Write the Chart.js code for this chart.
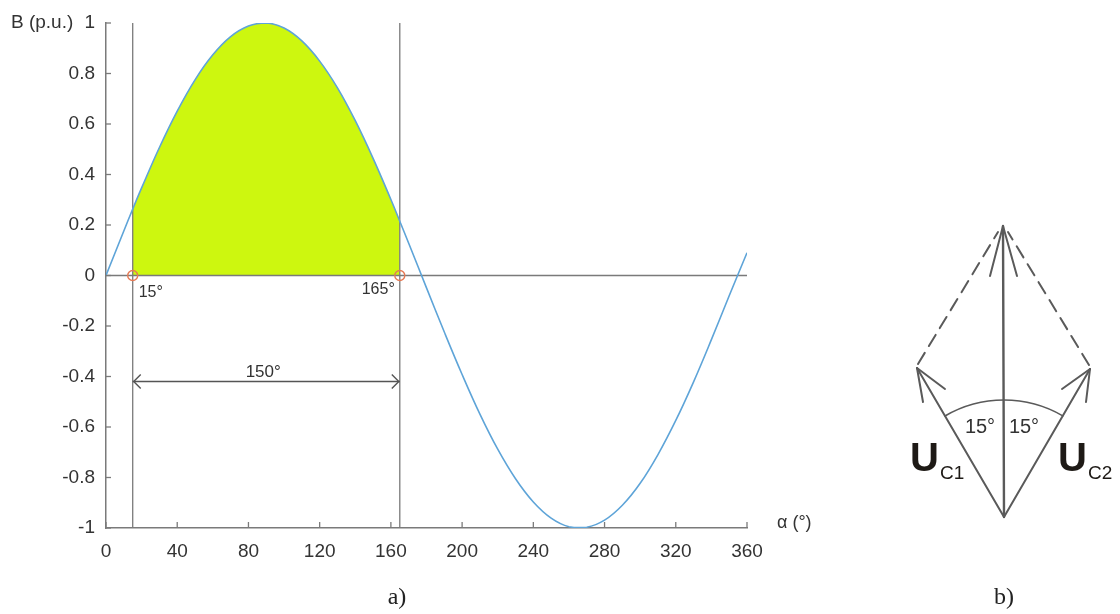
<!DOCTYPE html>
<html><head><meta charset="utf-8">
<script src="https://cdn.jsdelivr.net/npm/chart.js@4.4.1/dist/chart.umd.min.js"></script>
<style>html,body{margin:0;padding:0;background:#fff;}#wrap{width:1120px;height:614px;position:relative;}</style>
</head><body><div id="wrap"><canvas id="c" width="1120" height="614"></canvas></div>
<script>
// ---- data ----
const alphaDeg = [0,10,15,20,30,40,50,60,70,80,90,100,110,120,130,140,150,160,165,170,180,190,200,210,220,230,240,250,260,270,280,290,300,310,320,330,340,350,360];
const fluxB    = [0,0.176,0.263,0.347,0.507,0.651,0.775,0.874,0.946,0.988,1.000,0.980,0.929,0.849,0.743,0.613,0.464,0.301,0.215,0.128,-0.049,-0.224,-0.392,-0.549,-0.688,-0.805,-0.897,-0.961,-0.995,-0.997,-0.969,-0.910,-0.823,-0.709,-0.574,-0.421,-0.254,-0.080,0.090];
const shadedFrom = 15;
const shadedTo = 165;
const markerAngles = [15, 165];
const markerLabels = ['15°', '165°'];
const spanLevel = -0.42;
const spanLabel = '150°';
const xTickValues = [0,40,80,120,160,200,240,280,320,360];
const yTickValues = [1,0.8,0.6,0.4,0.2,0,-0.2,-0.4,-0.6,-0.8,-1];
const yTickLabels = ['1','0.8','0.6','0.4','0.2','0','-0.2','-0.4','-0.6','-0.8','-1'];
const yAxisTitle = 'B (p.u.)';
const xAxisTitle = 'α (°)';
const panelLabels = ['a)', 'b)'];
const phasorAngleLabels = ['15°', '15°'];
const phasorNames = [['U','C1'], ['U','C2']];

// ---- build datasets ----
const curvePts = alphaDeg.map((a,i)=>({x:a, y:fluxB[i]}));
const shadedPts = curvePts.filter(p=>p.x>=shadedFrom && p.x<=shadedTo);
const GRAY = '#7a7a7a';
const TXT = '#333333';
const FONT = "'Liberation Sans', Arial, sans-serif";

const datasets = [
  {label:'shade', data:shadedPts, fill:'origin', backgroundColor:'#cdf70f', borderWidth:0, pointRadius:0, tension:0.4, order:6},
  {label:'v1', data:[{x:markerAngles[0],y:-1},{x:markerAngles[0],y:1}], borderColor:GRAY, borderWidth:1.3, pointRadius:0, fill:false, order:5},
  {label:'v2', data:[{x:markerAngles[1],y:-1},{x:markerAngles[1],y:1}], borderColor:GRAY, borderWidth:1.3, pointRadius:0, fill:false, order:5},
  {label:'zero', data:[{x:0,y:0},{x:360,y:0}], borderColor:GRAY, borderWidth:1.3, pointRadius:0, fill:false, order:4},
  {label:'span', data:[{x:markerAngles[0],y:spanLevel},{x:markerAngles[1],y:spanLevel}], borderColor:'#555', borderWidth:1.6, pointRadius:0, fill:false, order:3},
  {label:'B', data:curvePts, borderColor:'#5ea4d8', borderWidth:1.6, pointRadius:0, fill:false, tension:0.4, order:2},
  {label:'marks', data:markerAngles.map(a=>({x:a,y:0})), showLine:false, pointRadius:5, pointStyle:'circle', pointBorderColor:'#e57a55', pointBackgroundColor:'rgba(0,0,0,0)', pointBorderWidth:1.4, order:1}
];

const annot = {
  id:'annot',
  afterDraw(chart){
    const ctx = chart.ctx, xs = chart.scales.x, ys = chart.scales.y;
    const ca = chart.chartArea;
    ctx.save();
    // inward tick marks
    ctx.strokeStyle = GRAY; ctx.lineWidth = 1.3;
    yTickValues.forEach(v=>{const p=ys.getPixelForValue(v); ctx.beginPath(); ctx.moveTo(ca.left,p); ctx.lineTo(ca.left+5,p); ctx.stroke();});
    xTickValues.forEach(v=>{const p=xs.getPixelForValue(v); ctx.beginPath(); ctx.moveTo(p,ca.bottom); ctx.lineTo(p,ca.bottom-6); ctx.stroke();});
    // marker labels
    ctx.fillStyle = TXT; ctx.font = '16px '+FONT; ctx.textBaseline='middle';
    const y0 = ys.getPixelForValue(0);
    ctx.textAlign='left'; ctx.fillText(markerLabels[0], xs.getPixelForValue(markerAngles[0])+6, y0+17);
    ctx.textAlign='right'; ctx.fillText(markerLabels[1], xs.getPixelForValue(markerAngles[1])-5, y0+14);
    // span arrow heads
    const ya = ys.getPixelForValue(spanLevel);
    const xa = xs.getPixelForValue(markerAngles[0]), xb = xs.getPixelForValue(markerAngles[1]);
    ctx.strokeStyle='#555'; ctx.lineWidth=1.4;
    ctx.beginPath(); ctx.moveTo(xa+8,ya-7); ctx.lineTo(xa+1,ya); ctx.lineTo(xa+8,ya+7); ctx.stroke();
    ctx.beginPath(); ctx.moveTo(xb-8,ya-7); ctx.lineTo(xb-1,ya); ctx.lineTo(xb-8,ya+7); ctx.stroke();
    ctx.textAlign='center'; ctx.font='17px '+FONT; ctx.fillStyle=TXT;
    ctx.fillText(spanLabel, (xa+xb)/2 - 3, ya-9);
    // axis titles
    ctx.font='19px '+FONT; ctx.textAlign='left';
    ctx.fillText(yAxisTitle, 11, 23);
    ctx.font='18px '+FONT;
    ctx.fillText(xAxisTitle, ca.right+30, ca.bottom-5);
    // panel labels
    ctx.font="24px 'Liberation Serif', 'Times New Roman', serif"; ctx.fillStyle='#222'; ctx.textAlign='center';
    ctx.fillText(panelLabels[0], 397, 598);
    ctx.fillText(panelLabels[1], 1004, 598);
    // ---- diagram b) ----
    const cx=1004, cy=517, apex=[1003,226], L=[917,368], R=[1090,369];
    ctx.strokeStyle='#5a5a5a'; ctx.lineWidth=2; ctx.lineCap='round';
    const line=(a,b)=>{ctx.beginPath();ctx.moveTo(a[0],a[1]);ctx.lineTo(b[0],b[1]);ctx.stroke();};
    ctx.lineWidth=2.4; line([cx,cy],apex);
    ctx.lineWidth=2;
    line([cx,cy],L);
    line([cx,cy],R);
    // arrow barbs
    line(apex,[990,276]); line(apex,[1017,276]);
    line(L,[923,402]); line(L,[945,389]);
    line(R,[1062,389]); line(R,[1086,402]);
    // dashed sides
    ctx.setLineDash([13,8]);
    line([918,364],[998,232]);
    line([1089,365],[1008,232]);
    ctx.setLineDash([]);
    // arc
    const aL=Math.atan2(L[1]-cy,L[0]-cx), aR=Math.atan2(R[1]-cy,R[0]-cx);
    ctx.lineWidth=1.6;
    ctx.beginPath(); ctx.arc(cx,cy,117,aL,aR,false); ctx.stroke();
    // angle labels
    ctx.fillStyle='#333'; ctx.font="20px 'Liberation Sans Narrow', 'Liberation Sans', sans-serif"; ctx.textBaseline='middle';
    ctx.textAlign='center';
    ctx.fillText(phasorAngleLabels[0], 980, 427);
    ctx.fillText(phasorAngleLabels[1], 1024, 427);
    // phasor names
    ctx.fillStyle='#1e1a16'; ctx.textBaseline='alphabetic'; ctx.textAlign='left';
    ctx.font="bold 40px 'Liberation Sans', Arial, sans-serif";
    ctx.fillText(phasorNames[0][0], 910, 471);
    ctx.fillText(phasorNames[1][0], 1058, 471);
    ctx.font="19px 'Liberation Sans Narrow', 'Liberation Sans', Arial, sans-serif";
    ctx.fillText(phasorNames[0][1], 940, 479);
    ctx.fillText(phasorNames[1][1], 1088, 479);
    ctx.restore();
  }
};

new Chart(document.getElementById('c'), {
  type:'line',
  data:{datasets},
  options:{
    responsive:false, animation:false,
    layout:{padding:{left:46, right:373, top:23, bottom:56}},
    plugins:{legend:{display:false}, tooltip:{enabled:false}},
    scales:{
      x:{type:'linear', min:0, max:360,
         afterFit(s){s.height=30;},
         afterBuildTicks(s){s.ticks = xTickValues.map(v=>({value:v}));},
         ticks:{font:{family:FONT,size:19}, color:TXT, padding:12, maxRotation:0, autoSkip:false},
         grid:{display:true, drawOnChartArea:false, drawTicks:false},
         border:{display:true, color:GRAY, width:1.5}},
      y:{type:'linear', min:-1, max:1,
         afterFit(s){s.width=60;},
         afterBuildTicks(s){s.ticks = yTickValues.map(v=>({value:v}));},
         ticks:{font:{family:FONT,size:19}, color:TXT, padding:11, autoSkip:false,
                callback:(v)=>{const i=yTickValues.findIndex(t=>Math.abs(t-v)<1e-9); return i>=0?yTickLabels[i]:'';}},
         grid:{display:true, drawOnChartArea:false, drawTicks:false},
         border:{display:true, color:GRAY, width:1.5}}
    }
  },
  plugins:[annot]
});
</script></body></html>
